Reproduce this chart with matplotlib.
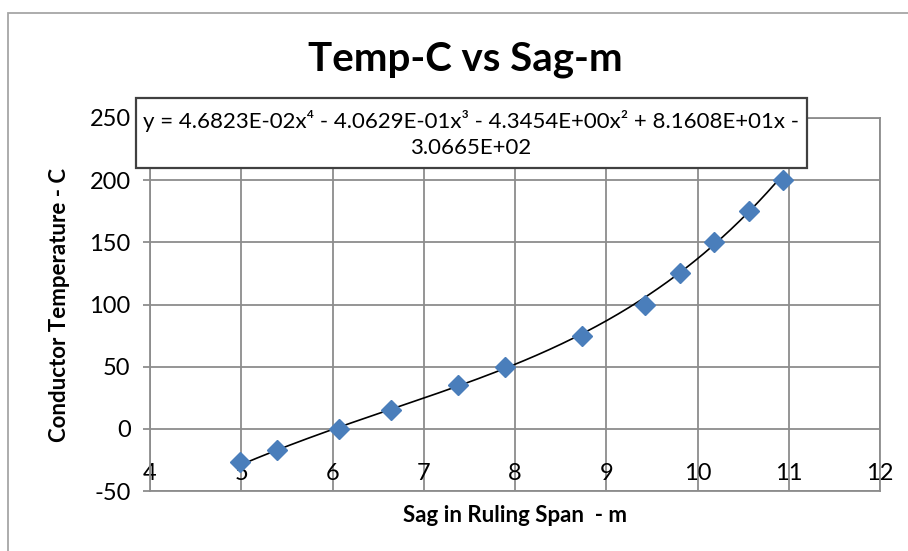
import matplotlib
matplotlib.use("Agg")
import matplotlib.pyplot as plt
from matplotlib.patches import Rectangle
import numpy as np

plt.rcParams["font.family"] = ["Lato", "DejaVu Sans"]
plt.rcParams["axes.unicode_minus"] = False

# sag in ruling span (m) vs conductor temperature (C)
sag = [4.99, 5.39, 6.07, 6.64, 7.37, 7.89, 8.73, 9.42, 9.81, 10.18, 10.56, 10.94]
temp = [-27, -17, 0, 15, 35, 50, 75, 100, 125, 150, 175, 200]
# 4th order trendline coefficients as printed on the chart (highest power first)
coef = [4.6823e-02, -4.0629e-01, -4.3454e+00, 8.1608e+01, -3.0665e+02]
x_ticks = [4, 5, 6, 7, 8, 9, 10, 11, 12]
y_ticks = [-50, 0, 50, 100, 150, 200, 250]

W, H = 908, 551
fig = plt.figure(figsize=(W / 100, H / 100), dpi=100)
GRID = "#8c8c8c"

# outer chart-area border
fig.patches.append(Rectangle((8 / W, -0.02), 1.05, 1 - 13 / H + 0.02, transform=fig.transFigure,
                             fill=False, ec="#a6a6a6", lw=1.3))

ax = fig.add_axes([150 / W, (H - 491) / H, 730 / W, 373 / H])
xs = np.linspace(sag[0], sag[-1], 300)
ax.plot(xs, np.polyval(coef, xs), color="black", lw=1.2, zorder=3)
ax.plot(sag, temp, "D", color="#4a7ebb", ms=10, mec="#4a7ebb", zorder=4)

ax.set_xlim(4, 12); ax.set_ylim(-50, 250)
ax.set_xticks(x_ticks); ax.set_yticks(y_ticks)
ax.grid(True, color=GRID, lw=1.3)
ax.set_axisbelow(True)
for s in ax.spines.values():
    s.set_color(GRID); s.set_linewidth(1.3)
ax.tick_params(axis="y", length=5, color=GRID, width=1.3, labelsize=17, pad=9)
ax.tick_params(axis="x", length=0, labelsize=17, pad=-20)

ax.set_xlabel("Sag in Ruling Span  - m", fontsize=16, fontweight="bold", labelpad=10)
ax.set_ylabel("Conductor Temperature - C", fontsize=16, fontweight="bold", labelpad=14)
fig.text(465 / W, 1 - 60 / H, "Temp-C vs Sag-m", fontsize=29, fontweight="bold",
         ha="center", va="center")

# trendline equation box
fig.patches.append(Rectangle((136 / W, 1 - 168 / H), 671 / W, 70 / H, transform=fig.transFigure,
                             fc="white", ec="#404040", lw=1.6, zorder=5))
fig.text(471 / W, 1 - 134 / H,
         "y = 4.6823E-02x\u2074 - 4.0629E-01x\u00b3 - 4.3454E+00x\u00b2 + 8.1608E+01x -\n3.0665E+02",
         fontsize=16, ha="center", va="center", linespacing=1.35, zorder=6)

fig.savefig("out.png", dpi=100)
